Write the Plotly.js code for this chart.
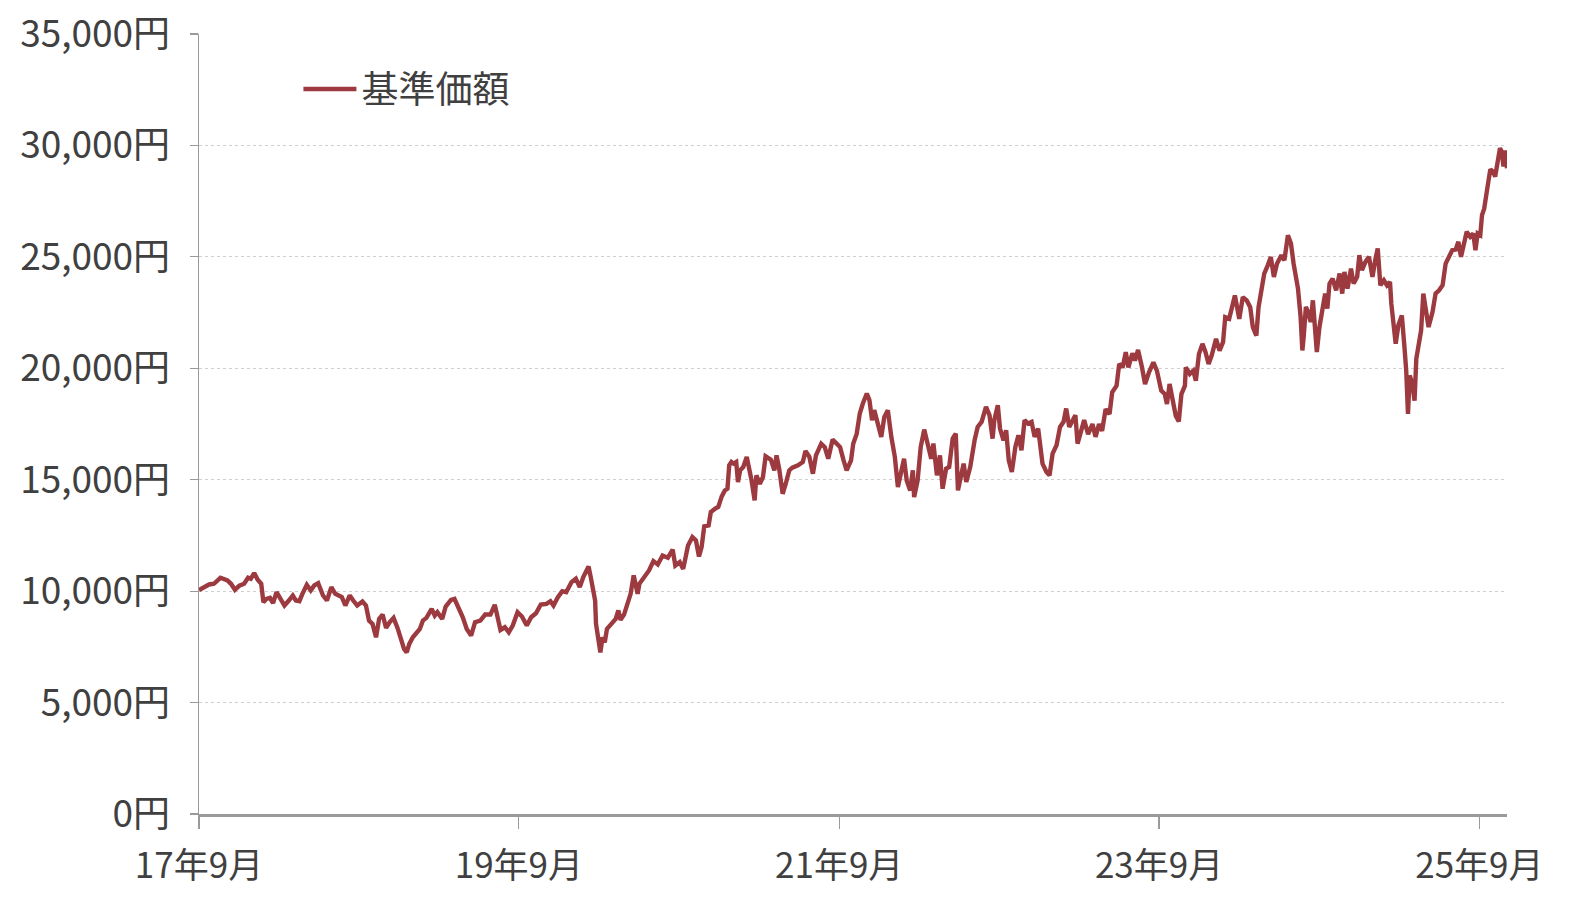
<!DOCTYPE html>
<html>
<head>
<meta charset="utf-8">
<script src="https://cdn.plot.ly/plotly-3.0.1.min.js"></script>
<style>html,body{margin:0;padding:0;background:#fff;}#chart{width:1576px;height:897px;}</style>
</head>
<body>
<div id="chart"></div>
<script>
const seriesName = "基準価額";
const dates = [
"2017-09-01","2017-09-12","2017-09-24","2017-10-05","2017-10-20","2017-11-05","2017-11-13","2017-11-22","2017-12-02","2017-12-13",
"2017-12-22","2017-12-28","2018-01-05","2018-01-13","2018-01-21","2018-01-26","2018-02-02","2018-02-10","2018-02-17","2018-02-25",
"2018-03-06","2018-03-15","2018-03-25","2018-04-03","2018-04-10","2018-04-18","2018-04-25","2018-05-05","2018-05-14","2018-05-22",
"2018-05-31","2018-06-11","2018-06-20","2018-06-30","2018-07-09","2018-07-16","2018-07-24","2018-08-01","2018-08-11","2018-08-19",
"2018-08-28","2018-09-09","2018-09-17","2018-09-24","2018-10-02","2018-10-10","2018-10-17","2018-10-25","2018-11-02","2018-11-10",
"2018-11-19","2018-11-28","2018-12-06","2018-12-13","2018-12-19","2018-12-25","2019-01-02","2019-01-18","2019-01-25","2019-02-02",
"2019-02-14","2019-02-21","2019-02-27","2019-03-10","2019-03-18","2019-03-30","2019-04-07","2019-04-14","2019-04-26","2019-05-05",
"2019-05-15","2019-05-24","2019-06-05","2019-06-16","2019-06-28","2019-07-08","2019-07-15","2019-07-21","2019-07-31","2019-08-09",
"2019-08-18","2019-08-29","2019-09-08","2019-09-19","2019-09-29","2019-10-10","2019-10-21","2019-11-03","2019-11-12","2019-11-19",
"2019-11-29","2019-12-09","2019-12-18","2019-12-30","2020-01-09","2020-01-18","2020-01-26","2020-02-01","2020-02-07","2020-02-12",
"2020-02-17","2020-02-22","2020-02-24","2020-02-29","2020-03-05","2020-03-10","2020-03-15","2020-03-20","2020-03-29","2020-04-09",
"2020-04-15","2020-04-20","2020-04-28","2020-05-05","2020-05-13","2020-05-20","2020-05-29","2020-06-02","2020-06-09","2020-06-17",
"2020-06-24","2020-07-04","2020-07-14","2020-07-25","2020-08-06","2020-08-17","2020-08-23","2020-09-02","2020-09-10","2020-09-21",
"2020-10-01","2020-10-09","2020-10-16","2020-10-22","2020-10-28","2020-11-07","2020-11-12","2020-11-22","2020-11-29","2020-12-07",
"2020-12-14","2020-12-20","2020-12-24","2020-12-29","2021-01-03","2021-01-09","2021-01-13","2021-01-18","2021-01-25","2021-02-02",
"2021-02-08","2021-02-13","2021-02-20","2021-02-24","2021-03-04","2021-03-11","2021-03-17","2021-03-29","2021-04-06","2021-04-11",
"2021-04-17","2021-04-25","2021-05-02","2021-05-10","2021-05-17","2021-05-30","2021-06-10","2021-06-16","2021-06-25","2021-07-03",
"2021-07-10","2021-07-22","2021-07-30","2021-08-07","2021-08-17","2021-08-27","2021-09-03","2021-09-11","2021-09-18","2021-09-28",
"2021-10-03","2021-10-11","2021-10-18","2021-10-25","2021-11-03","2021-11-09","2021-11-15","2021-11-20","2021-11-28","2021-12-06",
"2021-12-13","2021-12-21","2021-12-29","2022-01-06","2022-01-13","2022-01-22","2022-01-27","2022-02-02","2022-02-10","2022-02-16",
"2022-02-19","2022-02-27","2022-03-06","2022-03-14","2022-03-22","2022-03-30","2022-04-04","2022-04-12","2022-04-19","2022-04-25",
"2022-05-03","2022-05-10","2022-05-18","2022-05-25","2022-05-30","2022-06-07","2022-06-12","2022-06-18","2022-06-27","2022-07-07",
"2022-07-14","2022-07-23","2022-08-02","2022-08-10","2022-08-17","2022-08-21","2022-08-29","2022-09-03","2022-09-11","2022-09-17",
"2022-09-23","2022-09-30","2022-10-08","2022-10-15","2022-10-22","2022-10-29","2022-11-06","2022-11-14","2022-11-21","2022-11-29",
"2022-12-09","2022-12-18","2022-12-25","2023-01-01","2023-01-10","2023-01-18","2023-01-26","2023-02-01","2023-02-08","2023-02-16",
"2023-02-22","2023-02-27","2023-03-14","2023-03-23","2023-04-02","2023-04-09","2023-04-17","2023-04-24","2023-05-02","2023-05-11",
"2023-05-17","2023-05-27","2023-06-02","2023-06-10","2023-06-17","2023-06-23","2023-07-02","2023-07-08","2023-07-15","2023-07-24",
"2023-07-31","2023-08-09","2023-08-19","2023-08-27","2023-09-06","2023-09-14","2023-09-19","2023-09-25","2023-10-02","2023-10-09",
"2023-10-16","2023-10-22","2023-10-30","2023-11-01","2023-11-10","2023-11-18","2023-11-24","2023-12-01","2023-12-09","2023-12-16",
"2023-12-23","2023-12-30","2024-01-09","2024-01-17","2024-01-25","2024-01-30","2024-02-08","2024-02-15","2024-02-21","2024-03-02",
"2024-03-10","2024-03-19","2024-03-27","2024-04-02","2024-04-10","2024-04-15","2024-04-21","2024-04-28","2024-05-06","2024-05-13",
"2024-05-20","2024-05-27","2024-06-06","2024-06-13","2024-06-21","2024-06-28","2024-07-04","2024-07-08","2024-07-14","2024-07-20",
"2024-07-24","2024-07-27","2024-08-01","2024-08-06","2024-08-12","2024-08-17","2024-08-22","2024-08-26","2024-09-01","2024-09-07",
"2024-09-14","2024-09-19","2024-09-24","2024-10-01","2024-10-09","2024-10-17","2024-10-23","2024-10-28","2024-11-04","2024-11-12",
"2024-11-18","2024-11-26","2024-12-01","2024-12-07","2024-12-15","2024-12-23","2024-12-31","2025-01-07","2025-01-12","2025-01-18",
"2025-01-26","2025-02-02","2025-02-09","2025-02-12","2025-02-16","2025-02-22","2025-02-28","2025-03-08","2025-03-14","2025-03-18",
"2025-03-22","2025-03-26","2025-04-01","2025-04-06","2025-04-10","2025-04-16","2025-04-21","2025-04-26","2025-05-02","2025-05-08",
"2025-05-17","2025-05-24","2025-06-01","2025-06-09","2025-06-16","2025-06-24","2025-07-01","2025-07-09","2025-07-15","2025-07-21",
"2025-07-28","2025-08-03","2025-08-11","2025-08-18","2025-08-23","2025-08-28","2025-09-03","2025-09-07","2025-09-12","2025-09-17",
"2025-09-22","2025-09-26","2025-10-02","2025-10-07","2025-10-12","2025-10-18","2025-10-22","2025-10-26","2025-10-30","2025-11-03"
];
const navValues = [
10050,10180,10300,10330,10600,10480,10330,10060,10250,10330,
10600,10555,10810,10510,10330,9505,9655,9700,9460,9955,
9610,9355,9580,9805,9580,9550,9880,10285,10030,10255,
10360,9805,9580,10180,9880,9805,9730,9355,9805,9580,
9355,9535,9355,8680,8530,7930,8755,8950,8350,8605,
8800,8350,7780,7405,7255,7630,7930,8305,8680,8800,
9205,8905,9055,8755,9310,9610,9655,9355,8830,8305,
8005,8605,8680,8950,8950,9385,8830,8260,8380,8155,
8455,9055,8860,8455,8830,9010,9400,9430,9550,9355,
9730,10000,9955,10405,10555,10180,10630,10855,11110,10630,
9955,9580,8530,7705,7255,7930,7705,8305,8530,8755,
9130,8710,8950,9355,9880,10705,9880,10330,10510,10780,
10930,11350,11200,11600,11500,11860,11150,11300,11000,12050,
12425,12275,11555,11975,12905,12950,13550,13700,13775,14250,
14520,14595,15645,15795,15720,15795,14895,15420,15570,16020,
15495,14970,14070,15195,14820,15120,16050,15900,15420,16090,
15495,14370,14820,15420,15540,15645,15795,16290,16020,15270,
16090,16615,16465,15945,16800,16590,16465,15870,15420,15870,
16615,17065,17970,18420,18870,18570,17670,18120,17520,16920,
17820,18120,16920,16020,14670,15570,15945,14970,14520,15420,
14220,14970,16470,17250,16545,15945,16620,15195,16095,14595,
15495,15570,16845,17070,14520,15345,15720,14895,15570,16770,
17370,17595,18270,17895,16845,17670,18345,17295,16770,17220,
15870,15345,16470,16995,16320,17670,17520,17595,16920,17295,
15720,15345,15195,16170,16545,17370,17595,18195,17370,17670,
17895,16620,17675,17045,17495,16925,17495,17195,18170,17945,
18920,19220,20195,20045,20720,20045,20675,20345,20825,20045,
19295,19820,20270,19895,18995,18845,18395,19295,18470,17870,
17615,18845,19220,20045,19745,19895,19445,20645,21095,20720,
20195,20570,21320,20795,21170,22295,22220,22745,23270,22220,
23195,23045,22745,21845,21470,22745,23420,24245,24620,24995,
24095,24695,25070,24845,25970,25595,24695,24250,23575,22300,
20800,21400,22750,22525,22075,23050,21700,20725,21850,22600,
23350,22675,23800,24025,23500,24250,23350,24325,23575,24475,
23800,24100,25075,24400,24775,25000,24100,24925,25375,23725,
23950,23725,23875,22900,22000,21100,21925,22375,20950,19900,
17950,19675,19300,18550,20425,21025,21700,23350,22600,21850,
22525,23350,23500,23725,24700,25000,25300,25330,25675,25000,
25600,26125,25900,26050,25300,26050,25975,26875,27175,27700,
28450,28930,28825,28600,29350,29875,29725,29050,29770,28975
];
const yTickValues = [0,5000,10000,15000,20000,25000,30000,35000];
const yTickLabels = ["0円","5,000円","10,000円","15,000円","20,000円","25,000円","30,000円","35,000円"];
const xTickStart = "2017-09-01";

const lineColor = "#9C3A40";
const textColor = "#404040";
const axisGray = "#9a9a9a";
const fontFamily = "'Noto Sans CJK JP', 'Noto Sans', sans-serif";

const trace = {
  type: "scatter",
  mode: "lines",
  name: seriesName,
  x: dates,
  y: navValues,
  line: {color: lineColor, width: 4.4},
  showlegend: true
};

const layout = {
  width: 1576,
  height: 897,
  margin: {l: 199, r: 69, t: 34, b: 83},
  paper_bgcolor: "#ffffff",
  plot_bgcolor: "#ffffff",
  font: {family: fontFamily, color: textColor},
  showlegend: true,
  legend: {
    x: 0.076, y: 0.929, xanchor: "left", yanchor: "middle",
    font: {family: fontFamily, size: 37, color: textColor},
    bgcolor: "rgba(0,0,0,0)",
    itemwidth: 53
  },
  xaxis: {
    type: "date",
    range: ["2017-09-01", "2025-11-03"],
    tick0: xTickStart,
    dtick: "M24",
    tickformat: "%y年%-m月",
    ticks: "outside",
    ticklen: 12,
    tickwidth: 1.2,
    tickcolor: axisGray,
    showline: true,
    linecolor: axisGray,
    linewidth: 2.5,
    showgrid: false,
    zeroline: false,
    ticklabelstandoff: 7,
    tickfont: {family: fontFamily, size: 35, color: textColor}
  },
  yaxis: {
    range: [0, 35000],
    tickmode: "array",
    tickvals: yTickValues,
    ticktext: yTickLabels,
    ticks: "outside",
    ticklen: 8,
    tickwidth: 1.2,
    tickcolor: axisGray,
    showline: true,
    linecolor: axisGray,
    linewidth: 1.5,
    showgrid: true,
    gridcolor: "#cfcfcf",
    gridwidth: 1,
    griddash: "dot",
    zeroline: false,
    ticklabelstandoff: 12,
    tickfont: {family: fontFamily, size: 37, color: textColor}
  }
};

Plotly.newPlot("chart", [trace], layout, {displayModeBar: false, staticPlot: true});
</script>
</body>
</html>
